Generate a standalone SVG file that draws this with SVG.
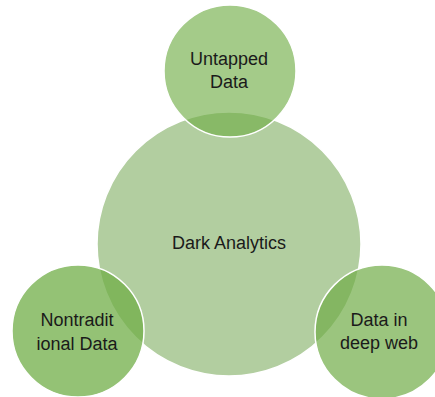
<svg xmlns="http://www.w3.org/2000/svg" width="435" height="397" viewBox="0 0 435 397">
<style>
.c{stroke:#ffffff;stroke-width:1.5}
.t{font-family:"Liberation Sans",Arial,sans-serif;font-size:18px;fill:#1a1a1a;text-anchor:middle}
</style>
<rect width="435" height="397" fill="#ffffff"/>
<g id="dark-analytics">
<circle class="c" cx="229" cy="244" r="132" fill="#b2cea0"/>
<text class="t" x="229" y="249">Dark Analytics</text>
</g>
<g id="untapped-data">
<circle class="c" cx="230" cy="71" r="66" fill="#70ad47" fill-opacity="0.64"/>
<text class="t" x="229" y="65">Untapped</text>
<text class="t" x="229" y="88">Data</text>
</g>
<g id="nontraditional-data">
<circle class="c" cx="78" cy="331" r="66" fill="#70ad47" fill-opacity="0.75"/>
<text class="t" x="77" y="326">Nontradit</text>
<text class="t" x="77" y="350">ional Data</text>
</g>
<g id="data-in-deep-web">
<circle class="c" cx="382" cy="332" r="67" fill="#70ad47" fill-opacity="0.7"/>
<text class="t" x="379" y="326">Data in</text>
<text class="t" x="379" y="349">deep web</text>
</g>
<g id="connectors"></g>
</svg>
